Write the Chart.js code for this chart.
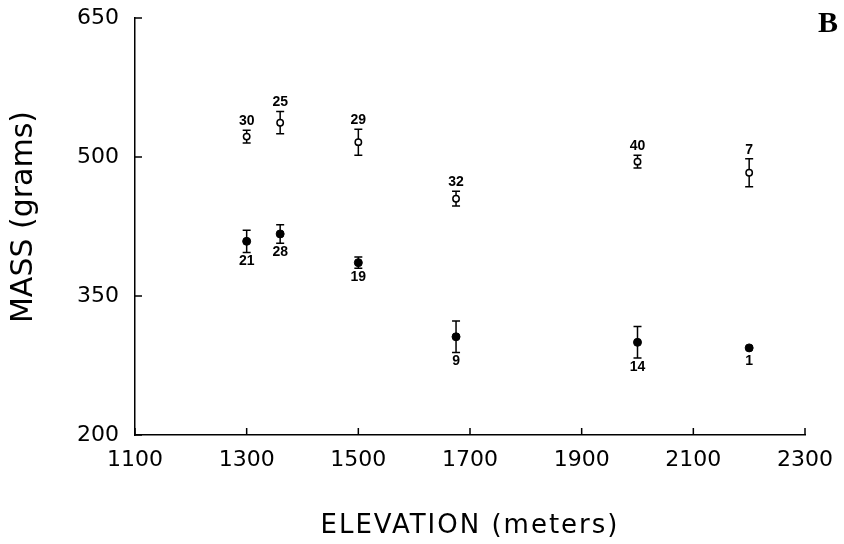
<!DOCTYPE html>
<html>
<head>
<meta charset="utf-8">
<script src="https://cdn.jsdelivr.net/npm/chart.js@4.4.1/dist/chart.umd.min.js"></script>
<style>
  body { margin: 0; background: #fff; }
  canvas { display: block; }
</style>
</head>
<body>
<canvas id="massChart" width="844" height="544"></canvas>
<script>
// elevation of each site (meters)
const elevations = [1300, 1360, 1500, 1675, 2000, 2200];

// open circles (upper group)
const openMass = [522, 537, 516, 455, 495, 483];
const openErr = [7, 12, 14, 8, 7, 15];
const openN = [30, 25, 29, 32, 40, 7];

// filled circles (lower group)
const filledMass = [409, 417, 386, 306, 300, 294];
const filledErr = [12, 10, 6, 17, 17, 0];
const filledN = [21, 28, 19, 9, 14, 1];

const xTicks = [1100, 1300, 1500, 1700, 1900, 2100, 2300];
const yTicks = [200, 350, 500, 650];

const toPoints = (ys) => elevations.map((x, i) => ({ x: x, y: ys[i] }));

// error bars drawn under the markers
const errorBars = {
    id: 'errorBars',
    beforeDatasetsDraw(chart) {
        const { ctx, scales: { x, y } } = chart;
        const groups = [[openMass, openErr], [filledMass, filledErr]];
        ctx.save();
        ctx.strokeStyle = '#000';
        ctx.lineWidth = 1.5;
        groups.forEach(([vals, errs]) => {
            vals.forEach((v, i) => {
                if (!errs[i]) return;
                const px = x.getPixelForValue(elevations[i]);
                const top = y.getPixelForValue(v + errs[i]);
                const bot = y.getPixelForValue(v - errs[i]);
                ctx.beginPath();
                ctx.moveTo(px, top); ctx.lineTo(px, bot);
                ctx.moveTo(px - 4, top); ctx.lineTo(px + 4, top);
                ctx.moveTo(px - 4, bot); ctx.lineTo(px + 4, bot);
                ctx.stroke();
            });
        });
        ctx.restore();
    }
};

// sample sizes above open / below filled points
const sampleLabels = {
    id: 'sampleLabels',
    afterDatasetsDraw(chart) {
        const { ctx, scales: { x, y } } = chart;
        ctx.save();
        ctx.fillStyle = '#000';
        ctx.font = 'bold 14px "Liberation Sans", Arial, sans-serif';
        ctx.textAlign = 'center';
        ctx.textBaseline = 'middle';
        openMass.forEach((v, i) => {
            const px = x.getPixelForValue(elevations[i]);
            const py = y.getPixelForValue(v + openErr[i]) - 9;
            ctx.fillText(String(openN[i]), px, py);
        });
        filledMass.forEach((v, i) => {
            const px = x.getPixelForValue(elevations[i]);
            const py = filledErr[i] ? y.getPixelForValue(v - filledErr[i]) + 9 : y.getPixelForValue(v) + 13;
            ctx.fillText(String(filledN[i]), px, py);
        });
        ctx.restore();
    }
};

// inward tick marks, axis titles and the panel letter
const axisDecor = {
    id: 'axisDecor',
    afterDraw(chart) {
        const { ctx, chartArea, scales: { x, y } } = chart;
        ctx.save();
        ctx.strokeStyle = '#000';
        ctx.lineWidth = 1.5;
        ctx.beginPath();
        xTicks.forEach(v => {
            const px = x.getPixelForValue(v);
            ctx.moveTo(px, chartArea.bottom);
            ctx.lineTo(px, chartArea.bottom - 7);
        });
        yTicks.forEach(v => {
            const py = y.getPixelForValue(v);
            ctx.moveTo(chartArea.left, py);
            ctx.lineTo(chartArea.left + 7, py);
        });
        ctx.stroke();

        ctx.fillStyle = '#000';
        ctx.textAlign = 'center';
        ctx.textBaseline = 'middle';
        ctx.font = '26px "DejaVu Sans", sans-serif';
        ctx.letterSpacing = '2px';
        ctx.fillText('ELEVATION (meters)', (chartArea.left + chartArea.right) / 2, 526);
        ctx.letterSpacing = '0px';

        ctx.save();
        ctx.translate(24, 217);
        ctx.rotate(-Math.PI / 2);
        ctx.font = '30px "DejaVu Sans", sans-serif';
        ctx.fillText('MASS (grams)', 0, 0);
        ctx.restore();

        ctx.textAlign = 'right';
        ctx.textBaseline = 'alphabetic';
        ctx.font = 'bold 30px "Liberation Serif", "Times New Roman", serif';
        ctx.fillText('B', 838, 32);
        ctx.restore();
    }
};

const ctx = document.getElementById('massChart').getContext('2d');
new Chart(ctx, {
    type: 'scatter',
    data: {
        datasets: [
            {
                label: 'open',
                data: toPoints(openMass),
                pointStyle: 'circle',
                pointRadius: 3.2,
                backgroundColor: '#fff',
                borderColor: '#000',
                borderWidth: 1.5
            },
            {
                label: 'filled',
                data: toPoints(filledMass),
                pointStyle: 'circle',
                pointRadius: 4,
                backgroundColor: '#000',
                borderColor: '#000',
                borderWidth: 1
            }
        ]
    },
    options: {
        responsive: false,
        animation: false,
        layout: { padding: { top: 18, right: 39, left: 0, bottom: 0 } },
        plugins: {
            legend: { display: false },
            tooltip: { enabled: false }
        },
        scales: {
            x: {
                type: 'linear',
                min: 1100,
                max: 2300,
                afterBuildTicks: (scale) => { scale.ticks = xTicks.map(v => ({ value: v })); },
                afterFit: (scale) => {
                    scale.height = 109;
                    scale.paddingLeft = 0;
                    scale.paddingRight = 0;
                },
                grid: { display: false, drawTicks: false },
                border: { display: true, color: '#000', width: 1.5 },
                ticks: {
                    color: '#000',
                    padding: 12,
                    maxRotation: 0,
                    callback: (value) => String(value),
                    font: { family: '"DejaVu Sans", sans-serif', size: 22 }
                }
            },
            y: {
                type: 'linear',
                min: 200,
                max: 650,
                afterBuildTicks: (scale) => { scale.ticks = yTicks.map(v => ({ value: v })); },
                afterFit: (scale) => {
                    scale.width = 135;
                    scale.paddingTop = 0;
                    scale.paddingBottom = 0;
                },
                grid: { display: false, drawTicks: false },
                border: { display: true, color: '#000', width: 1.5 },
                ticks: {
                    color: '#000',
                    padding: 16,
                    callback: (value) => String(value),
                    font: { family: '"DejaVu Sans", sans-serif', size: 22 }
                }
            }
        }
    },
    plugins: [errorBars, sampleLabels, axisDecor]
});
</script>
</body>
</html>
